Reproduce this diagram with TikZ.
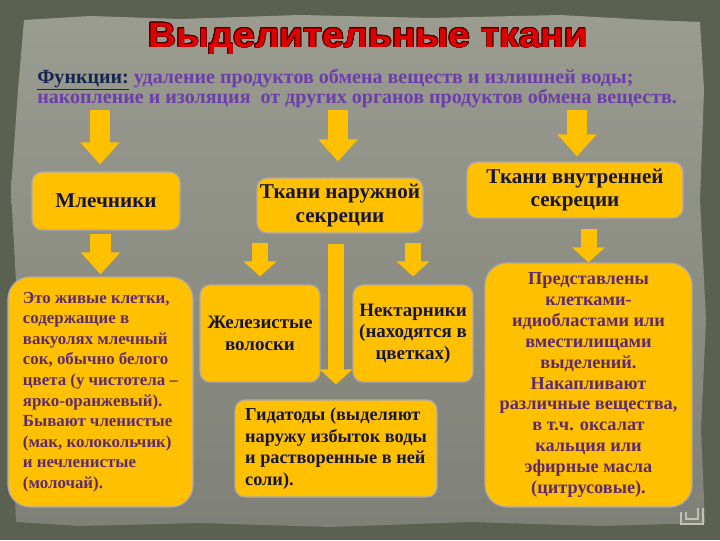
\documentclass[tikz,border=0pt]{standalone}
\usepackage{fontspec}
\setmainfont{Liberation Serif}
\newfontfamily\headfont{Liberation Sans}[FakeStretch=1.1]
\usepackage{contour}
\usetikzlibrary{arrows.meta}

\definecolor{framegreen}{HTML}{5B6150}
\definecolor{papertop}{HTML}{9A9C90}
\definecolor{paperbot}{HTML}{7F8178}
\definecolor{boxfill}{HTML}{FFC000}
\definecolor{boxedge}{HTML}{A9A6B8}
\definecolor{arrowfill}{HTML}{FFC000}
\definecolor{titlered}{HTML}{E00000}
\definecolor{titleedge}{HTML}{4A0000}
\definecolor{navytext}{HTML}{17244F}
\definecolor{functext}{HTML}{6B3FA8}
\definecolor{darktext}{HTML}{16163A}
\definecolor{purpletext}{HTML}{5E2A72}
\definecolor{iconline}{HTML}{BFC3AF}

\contourlength{0.6pt}

\tikzset{
  px/.style={x=0.025cm, y=-0.025cm},
  box/.style={draw=boxedge, fill=boxfill, line width=0.8pt, rounded corners=0.25cm,
    align=center, inner sep=0pt, text=darktext,
    font=\bfseries\fontsize{13.5}{15.4}\selectfont},
  headbox/.style={box, font=\bfseries\fontsize{15}{16.4}\selectfont},
  bigbox/.style={box, rounded corners=0.55cm, text=purpletext},
  functext/.style={anchor=base west, inner sep=0pt, font=\bfseries\fontsize{14.25}{16}\selectfont},
  bigarr/.style={arrowfill, line width=0.5cm, -{Triangle[width=0.95cm, length=0.55cm]}},
  smallarr/.style={arrowfill, line width=0.4cm, -{Triangle[width=0.8cm, length=0.375cm]}},
}

\begin{document}
\begin{tikzpicture}[px]
  \useasboundingbox (0,0) rectangle (720,540);
  % frame and paper
  \fill[framegreen] (0,0) rectangle (720,540);
  \shade[top color=papertop, bottom color=paperbot]
    (24,20) -- (90,16) -- (180,19) -- (300,15) -- (430,18) -- (560,15) -- (650,20)
    -- (700,22) -- (704,90) -- (700,200) -- (706,320) -- (701,430) -- (705,523)
    -- (600,526) -- (470,522) -- (330,527) -- (200,523) -- (80,526) -- (16,522)
    -- (12,420) -- (17,300) -- (11,190) -- (18,90) -- cycle;

  % title
  \node[anchor=base, inner sep=0pt, font=\headfont\bfseries\fontsize{25}{28}\selectfont]
    (title) at (368,47) {\contour{titleedge}{\textcolor{titlered}{Выделительные ткани}}};

  % functions
  \node[functext] (func1) at (37,83)
    {\textcolor{navytext}{\underline{Функции:}} \textcolor{functext}{удаление продуктов обмена веществ и излишней воды;}};
  \node[functext, text=functext] (func2) at (37,103)
    {накопление и изоляция\ \ от других органов продуктов обмена веществ.};

  % three kinds
  \node[headbox, minimum width=3.7cm, minimum height=1.45cm] (mlech) at (106,201) {Млечники};
  \node[headbox, minimum width=4.15cm, minimum height=1.375cm] (naruzh) at (340,205.5)
    {Ткани наружной\\секреции};
  \node[headbox, minimum width=5.4cm, minimum height=1.4cm] (vnutr) at (575,190)
    {Ткани внутренней\\секреции};

  % descriptions
  \node[bigbox, minimum width=4.625cm, minimum height=5.75cm, align=left,
    font=\bfseries\fontsize{12}{14.65}\selectfont] (mlechtext) at (100.5,392)
    {Это живые клетки,\\содержащие в\\вакуолях млечный\\сок, обычно белого\\цвета (у чистотела --\\ярко-оранжевый).\\Бывают членистые\\(мак, колокольчик)\\и нечленистые\\(молочай).};
  \node[box, minimum width=3cm, minimum height=2.425cm] (zhel) at (260,333.5)
    {Железистые\\волоски};
  \node[box, minimum width=3cm, minimum height=2.425cm] (nektar) at (413,333.5)
    {Нектарники\\(находятся в\\цветках)};
  \node[box, minimum width=5.05cm, minimum height=2.425cm, align=left,
    font=\bfseries\fontsize{13}{15.4}\selectfont] (gidat) at (336,448.5)
    {Гидатоды (выделяют\\наружу избыток воды\\и растворенные в ней\\соли).};
  \node[bigbox, minimum width=5.175cm, minimum height=6.1cm,
    font=\bfseries\fontsize{13}{14.9}\selectfont] (vnutrtext) at (588.5,385)
    {Представлены\\клетками-\\идиобластами или\\вместилищами\\выделений.\\Накапливают\\различные вещества,\\в т.ч. оксалат\\кальция или\\эфирные масла\\(цитрусовые).};

  % arrows
  \coordinate (t1) at (100,110);
  \coordinate (t2) at (338,110);
  \coordinate (t3) at (577,110);
  \draw[bigarr, shorten >=0.175cm] (t1) -- (t1 |- mlech.north);
  \draw[bigarr, shorten >=0.4cm] (t2) -- (t2 |- naruzh.north);
  \draw[bigarr, shorten >=0.125cm] (t3) -- (t3 |- vnutr.north);
  \draw[bigarr, shorten <=0.075cm, shorten >=0.05cm] (mlech.south -| mlechtext.north) -- (mlechtext.north);
  \draw[smallarr, shorten <=0.225cm, shorten >=0.2cm] (naruzh.south -| zhel.north) -- (zhel.north);
  \draw[smallarr, shorten <=0.225cm, shorten >=0.2cm] (naruzh.south -| nektar.north) -- (nektar.north);
  \draw[smallarr, shorten <=0.25cm, shorten >=0.375cm] (naruzh.south -| gidat.north) -- (gidat.north);
  \draw[smallarr, shorten <=0.25cm] (vnutr.south -| vnutrtext.north) -- (vnutrtext.north);

  % return icon
  \draw[iconline, line width=1.5pt] (681,512) -- (681,524) -- (703,524) -- (703,508);
  \draw[iconline, line width=1pt] (686,512) -- (686,519) -- (698,519) -- (698,508);
\end{tikzpicture}
\end{document}
